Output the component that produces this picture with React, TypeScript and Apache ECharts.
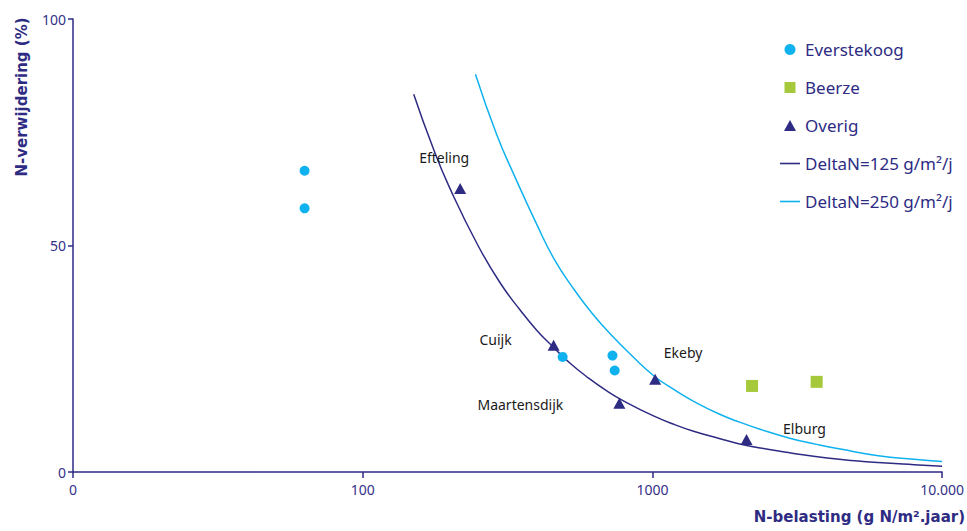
import React, { useEffect, useRef } from "react";
import * as echarts from "echarts";

const everstekoog: [number, number][] = [
  [63, 66.5],
  [63, 58.2],
  [490, 25.4],
  [728, 25.7],
  [741, 22.4],
];
const beerze: [number, number][] = [
  [2208, 19.0],
  [3690, 19.9],
];
const overigNames = ["Efteling", "Cuijk", "Maartensdijk", "Ekeby", "Elburg"];
const overigValues: [number, number][] = [
  [217, 62.6],
  [456, 28.0],
  [769, 15.2],
  [1022, 20.5],
  [2113, 7.2],
];
const overigLabelOffsets: [number, number][] = [
  [-16, -31],
  [-58, -6],
  [-99, 1],
  [28, -27],
  [58, -11],
];
// Curves
const delta125: [number, number][] = [
  [150, 83.4], [175, 71.5], [200, 62.6], [250, 50], [300, 41.5], [350, 35.7],
  [400, 31.2], [456, 27.5], [520, 24.0], [600, 20.8], [700, 17.8], [800, 15.6],
  [1000, 12.5], [1200, 10.4], [1387, 9.0], [1700, 7.4], [2000, 6.2],
  [2500, 5.0], [3000, 4.2], [4010, 3.1], [5000, 2.5], [6000, 2.1],
  [8000, 1.6], [10000, 1.25],
];
const delta250: [number, number][] = [
  [245, 87.8], [290, 74.5], [335, 65.2], [400, 54.5], [458, 47.0], [535, 40.4],
  [620, 35.0], [727, 30.0], [855, 25.5], [1013, 21.2], [1200, 18.0],
  [1387, 15.6], [1700, 12.8], [2000, 11.0], [2389, 9.3], [3000, 7.4],
  [3690, 6.1], [4500, 5.0], [6026, 3.6], [8000, 2.8], [10000, 2.3],
];
const xTicks = [10, 100, 1000, 10000];
const xTickLabels = ["0", "100", "1000", "10.000"];
const yTicks = [0, 50, 100];

const NAVY = "#2e2b83";
const CYAN = "#0fb2ef";
const GREEN = "#a5c93a";
const FONT = "Noto Sans";
const LINE_ICON = "path://M0,0H20V1.6H0Z";

export default function App() {
  const ref = useRef<HTMLDivElement>(null);
  useEffect(() => {
    if (!ref.current) return;
    const chart = echarts.init(ref.current, undefined, { renderer: "svg" });
    const axisTextColor = "#34318a";
    chart.setOption({
      animation: false,
      backgroundColor: "#ffffff",
      textStyle: { fontFamily: FONT },
      grid: { left: 73, right: 24, top: 19, bottom: 59, containLabel: false },
      legend: {
        orient: "vertical",
        left: 775,
        top: 36,
        itemWidth: 20,
        itemHeight: 11,
        itemGap: 21,
        symbolKeepAspect: true,
        textStyle: { color: NAVY, fontSize: 17, fontFamily: FONT },
        data: [
          { name: "Everstekoog", icon: "path://M5,0A5,5,0,1,1,4.99,0Z" },
          { name: "Beerze", icon: "path://M0,0H12V12H0Z" },
          { name: "Overig", icon: "path://M6,0L12,11H0Z" },
          { name: "DeltaN=125 g/m²/j", icon: LINE_ICON },
          { name: "DeltaN=250 g/m²/j", icon: LINE_ICON },
        ],
      },
      xAxis: {
        type: "log",
        logBase: 10,
        min: xTicks[0],
        max: xTicks[xTicks.length - 1],
        splitLine: { show: false },
        minorTick: { show: false },
        axisLine: { show: true, lineStyle: { color: NAVY, width: 1.5 } },
        axisTick: { show: true, length: 6, inside: false, lineStyle: { color: NAVY, width: 1.5 } },
        axisLabel: {
          color: axisTextColor,
          fontSize: 14,
          margin: 10,
          fontFamily: FONT,
          formatter: (v: number) => {
            const i = xTicks.findIndex((t) => Math.abs(t - v) < 1e-6);
            return i >= 0 ? xTickLabels[i] : "";
          },
        },
      },
      yAxis: {
        type: "value",
        min: yTicks[0],
        max: yTicks[yTicks.length - 1],
        interval: 50,
        splitLine: { show: false },
        axisLine: { show: true, lineStyle: { color: NAVY, width: 1.5 } },
        axisTick: { show: true, length: 5, lineStyle: { color: NAVY, width: 1.5 } },
        axisLabel: { color: axisTextColor, fontSize: 14, margin: 7, fontFamily: FONT },
      },
      graphic: [
        {
          type: "text",
          x: 22,
          y: 97,
          rotation: Math.PI / 2,
          style: {
            text: "N-verwijdering (%)",
            fill: NAVY,
            font: 'bold 15px "DejaVu Sans"',
            align: "center",
            verticalAlign: "middle",
          },
        },
        {
          type: "text",
          right: 2,
          top: 509,
          style: {
            text: "N-belasting (g N/m².jaar)",
            fill: NAVY,
            font: 'bold 15px "DejaVu Sans"',
          },
        },
      ],
      series: [
        {
          name: "Everstekoog",
          type: "scatter",
          symbol: "circle",
          symbolSize: 10,
          itemStyle: { color: CYAN, opacity: 1 },
          data: everstekoog,
          z: 5,
        },
        {
          name: "Beerze",
          type: "scatter",
          symbol: "rect",
          symbolSize: 12,
          itemStyle: { color: GREEN, opacity: 1 },
          data: beerze,
          z: 5,
        },
        {
          name: "Overig",
          type: "scatter",
          symbol: "triangle",
          symbolSize: [12, 11],
          itemStyle: { color: NAVY, opacity: 1 },
          data: overigValues.map((v, i) => ({
            value: v,
            name: overigNames[i],
            label: {
              show: true,
              formatter: overigNames[i],
              position: "inside",
              offset: overigLabelOffsets[i],
              color: "#1a1a1a",
              fontSize: 14,
              fontFamily: FONT,
            },
          })),
          z: 6,
        },
        {
          name: "DeltaN=125 g/m²/j",
          type: "line",
          smooth: 0.5,
          symbol: "none",
          lineStyle: { color: NAVY, width: 1.5 },
          itemStyle: { color: NAVY },
          data: delta125,
          z: 3,
        },
        {
          name: "DeltaN=250 g/m²/j",
          type: "line",
          smooth: 0.5,
          symbol: "none",
          lineStyle: { color: CYAN, width: 1.5 },
          itemStyle: { color: CYAN },
          data: delta250,
          z: 3,
        },
      ],
    });
    return () => chart.dispose();
  }, []);
  return <div ref={ref} style={{ width: 967, height: 531, position: "absolute", left: 0, top: 0 }} />;
}
